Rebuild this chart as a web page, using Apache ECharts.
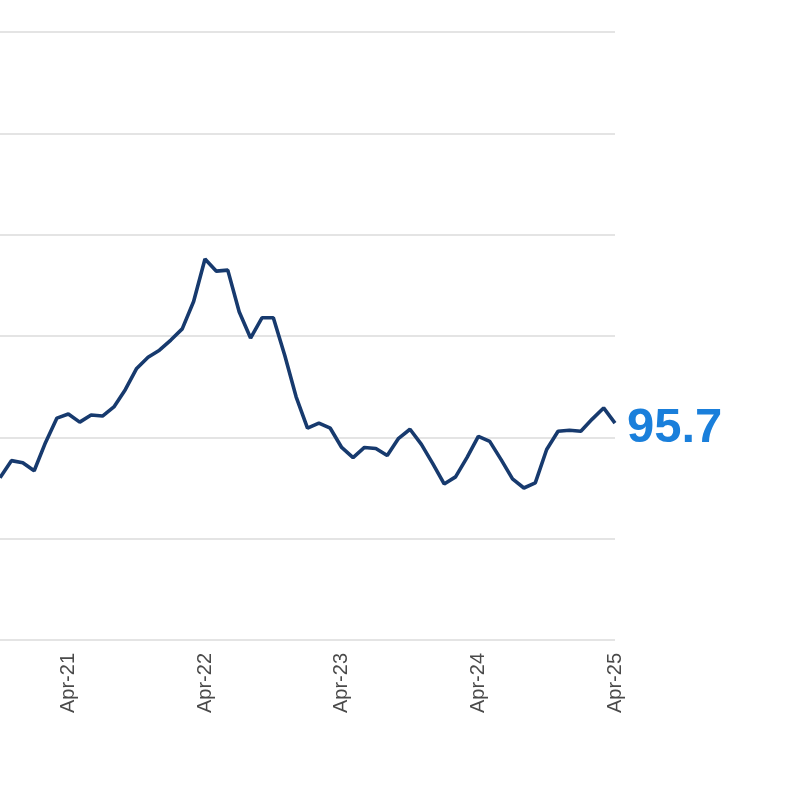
<!DOCTYPE html>
<html lang="en">
<head>
    <meta charset="UTF-8">
    <title>Index chart</title>
    <script src="https://cdn.jsdelivr.net/npm/echarts@6/dist/echarts.min.js"></script>
</head>
<body style="margin: 0; background: #ffffff">
<div id="chart" style="width: 800px; height: 800px"></div>

<script>
    // monthly categories, Oct-20 .. Apr-25
    let months = [
        'Oct-20', 'Nov-20', 'Dec-20',
        'Jan-21', 'Feb-21', 'Mar-21', 'Apr-21', 'May-21', 'Jun-21',
        'Jul-21', 'Aug-21', 'Sep-21', 'Oct-21', 'Nov-21', 'Dec-21',
        'Jan-22', 'Feb-22', 'Mar-22', 'Apr-22', 'May-22', 'Jun-22',
        'Jul-22', 'Aug-22', 'Sep-22', 'Oct-22', 'Nov-22', 'Dec-22',
        'Jan-23', 'Feb-23', 'Mar-23', 'Apr-23', 'May-23', 'Jun-23',
        'Jul-23', 'Aug-23', 'Sep-23', 'Oct-23', 'Nov-23', 'Dec-23',
        'Jan-24', 'Feb-24', 'Mar-24', 'Apr-24', 'May-24', 'Jun-24',
        'Jul-24', 'Aug-24', 'Sep-24', 'Oct-24', 'Nov-24', 'Dec-24',
        'Jan-25', 'Feb-25', 'Mar-25', 'Apr-25'
    ];

    let values = [
        93.0, 93.85, 93.75,
        93.35, 94.75, 95.95, 96.15, 95.75, 96.1,
        96.05, 96.5, 97.35, 98.4, 98.95, 99.3,
        99.8, 100.35, 101.7, 103.8, 103.2, 103.25,
        101.2, 99.9, 100.9, 100.9, 99.05, 97.0,
        95.45, 95.7, 95.45, 94.5, 94.0, 94.5,
        94.45, 94.1, 94.95, 95.4, 94.65, 93.7,
        92.7, 93.05, 94.0, 95.05, 94.8, 93.9,
        92.95, 92.5, 92.75, 94.4, 95.3, 95.35,
        95.3, 95.9, 96.45, 95.7
    ];

    // only the April ticks get a label
    let tickLabels = ['Apr-21', 'Apr-22', 'Apr-23', 'Apr-24', 'Apr-25'];

    let chart = echarts.init(document.getElementById('chart'));

    let option = {
        animation: false,
        grid: {
            left: 0,
            right: 185,
            top: 32,
            bottom: 160,
            containLabel: false
        },
        xAxis: {
            type: 'category',
            data: months,
            boundaryGap: false,
            axisLine: { show: false },
            axisTick: { show: false },
            splitLine: { show: false },
            axisLabel: {
                interval: function(index, name) {
                    return tickLabels.indexOf(name) !== -1;
                },
                rotate: 90,
                margin: 13,
                fontSize: 20,
                fontFamily: 'Liberation Sans',
                color: '#4a4a4a'
            }
        },
        yAxis: {
            type: 'value',
            min: 85,
            max: 115,
            interval: 5,
            axisLine: { show: false },
            axisTick: { show: false },
            axisLabel: { show: false },
            splitLine: {
                lineStyle: { color: '#e4e4e4', width: 2 }
            }
        },
        series: [
            {
                type: 'line',
                data: values,
                symbol: 'none',
                lineStyle: { color: '#173a6e', width: 3.6 },
                endLabel: {
                    show: true,
                    distance: 12,
                    offset: [0, 5],
                    formatter: function(params) {
                        return params.value.toFixed(1);
                    },
                    fontSize: 49,
                    fontWeight: 'bold',
                    fontFamily: 'Liberation Sans',
                    color: '#1a7fdb'
                }
            }
        ]
    };

    chart.setOption(option);
</script>
</body>
</html>
